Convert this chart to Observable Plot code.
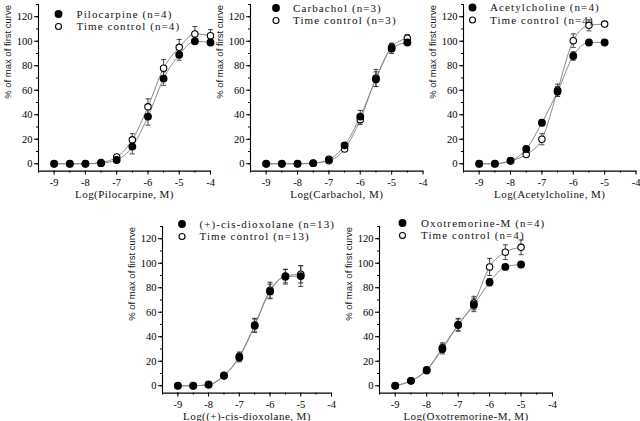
<!DOCTYPE html>
<html><head><meta charset="utf-8">
<script src="https://cdn.jsdelivr.net/npm/d3@7"></script>
<script src="https://cdn.jsdelivr.net/npm/@observablehq/plot@0.6"></script>
<style>
body{margin:0;background:#fff;}
#root{position:relative;width:640px;height:421px;overflow:hidden;background:#fff;}
#root svg{position:absolute;overflow:visible;background:transparent;}
</style></head><body><div id="root"></div><script>
// ---- data (log molar concentration vs % of max of first curve, mean and SEM) ----
const dosesPilo = [-9, -8.5, -8, -7.5, -7, -6.5, -6, -5.5, -5, -4.5, -4];
const pilocarpine    = [0, 0, 0, 0.5, 3, 14, 38.5, 69.5, 89, 100, 99];
const pilocarpineErr = [0, 0, 0, 0.5, 1, 6, 7, 5.5, 4.5, 1.5, 1.5];
const piloTC         = [0, 0, 0, 1, 5.5, 19.5, 46.5, 78, 95, 106, 104.5];
const piloTCErr      = [0, 0, 0, 0.5, 1, 5, 6.5, 7, 6.5, 6, 5];

const dosesCarb = [-9, -8.5, -8, -7.5, -7, -6.5, -6, -5.5, -5, -4.5];
const carbachol    = [0, 0, 0, 0.5, 3.5, 15, 38.5, 69, 94, 99];
const carbacholErr = [0, 0, 0, 0.5, 1, 1.5, 5, 6, 4, 1.5];
const carbTC       = [0, 0, 0, 0.5, 2.5, 12, 36, 70, 95, 102.5];
const carbTCErr    = [0, 0, 0, 0.5, 1, 1.5, 4, 7, 3.5, 3];

const dosesACh = [-9, -8.5, -8, -7.5, -7, -6.5, -6, -5.5, -5];
const acetylcholine    = [0, 0, 2.4, 12, 33.5, 59, 88, 99, 99];
const acetylcholineErr = [0, 0, 0.5, 1.5, 2.5, 4, 3.5, 1, 1];
const achTC            = [0, 0, 2.4, 7.5, 20, 60, 100.5, 113, 114];
const achTCErr         = [0, 0, 0.5, 1, 4.5, 5, 5.5, 4.5, 2];

const dosesDiox = [-9, -8.5, -8, -7.5, -7, -6.5, -6, -5.5, -5];
const dioxolane    = [0, 0, 1, 8.5, 23, 49, 77, 89, 89.5];
const dioxolaneErr = [0, 0, 0.5, 1.5, 3.5, 5.5, 6, 6, 8.5];
const dioxTC       = [0, 0, 0.8, 8, 24, 49.5, 78, 89.5, 91];
const dioxTCErr    = [0, 0, 0.5, 1.5, 3.5, 5.5, 6.5, 5.5, 7];

const dosesOxo = [-9, -8.5, -8, -7.5, -7, -6.5, -6, -5.5, -5];
const oxotremorine    = [0, 4, 12.5, 30, 49.5, 66, 84.5, 97, 99];
const oxotremorineErr = [0, 1, 1.5, 4, 5, 5.5, 3, 1.5, 1.5];
const oxoTC           = [0, 4, 13, 31, 50, 67.5, 97, 109, 113];
const oxoTCErr        = [0, 1, 1.5, 4, 5, 5.5, 7, 6, 6];

const xMajorTicks = [-9, -8, -7, -6, -5, -4];
const xMinorTicks = [-9.5, -9, -8.5, -8, -7.5, -7, -6.5, -6, -5.5, -5, -4.5, -4];
const yMajorTicks = [0, 20, 40, 60, 80, 100, 120];
const yMinorTicks = [0, 10, 20, 30, 40, 50, 60, 70, 80, 90, 100, 110, 120, 130];
const yTitle = "% of max of first curve";

const panels = [
  {left: 0, top: 0, w: 172, doses: dosesPilo, drug: pilocarpine, drugErr: pilocarpineErr, tc: piloTC, tcErr: piloTCErr,
   drugLabel: "Pilocarpine (n=4)", tcLabel: "Time control (n=4)", xLabel: "Log(Pilocarpine, M)", lg: [20, 9.5, 38]},
  {left: 212.3, top: 0, w: 172.5, doses: dosesCarb, drug: carbachol, drugErr: carbacholErr, tc: carbTC, tcErr: carbTCErr,
   drugLabel: "Carbachol (n=3)", tcLabel: "Time control (n=3)", xLabel: "Log(Carbachol, M)", lg: [25.5, 3.5, 42.5]},
  {left: 424.6, top: 0, w: 172.5, doses: dosesACh, drug: acetylcholine, drugErr: acetylcholineErr, tc: achTC, tcErr: achTCErr,
   drugLabel: "Acetylcholine (n=4)", tcLabel: "Time control (n=4)", xLabel: "Log(Acetylcholine, M)", lg: [9, 3, 26.5]},
  {left: 124.4, top: 222, w: 169, doses: dosesDiox, drug: dioxolane, drugErr: dioxolaneErr, tc: dioxTC, tcErr: dioxTCErr,
   drugLabel: "(+)-cis-dioxolane (n=13)", tcLabel: "Time control (n=13)", xLabel: "Log((+)-cis-dioxolane, M)", lg: [19.5, -2.5, 37]},
  {left: 340.6, top: 221.5, w: 173, doses: dosesOxo, drug: oxotremorine, drugErr: oxotremorineErr, tc: oxoTC, tcErr: oxoTCErr,
   drugLabel: "Oxotremorine-M (n=4)", tcLabel: "Time control (n=4)", xLabel: "Log(Oxotremorine-M, M)", lg: [23, -3.5, 41.5]}
];

const SERIF = "'Liberation Serif', 'DejaVu Serif', serif";
const SANS = "'Liberation Sans', Arial, sans-serif";
const capSymbol = {draw(ctx) { ctx.moveTo(-2.5, 0); ctx.lineTo(2.5, 0); }};

const root = document.getElementById("root");
const mL = 38, mT = 4, mR = 8, mB = 36, H = 166.6;

for (const p of panels) {
  const drugRows = p.doses.map((x, i) => ({x, y: p.drug[i], e: p.drugErr[i]}));
  const tcRows = p.doses.map((x, i) => ({x, y: p.tc[i], e: p.tcErr[i]}));
  const errRows = [...tcRows, ...drugRows].filter(d => d.e > 0.6);
  const [ldx, ldy, tdx] = p.lg;
  const legendText = (label, dy) => Plot.text([label], {frameAnchor: "top-left", text: d => d, dx: tdx, dy, textAnchor: "start", lineAnchor: "middle", fontFamily: SERIF, fontSize: 11, fill: "#111"});
  const svg = Plot.plot({
    width: mL + p.w + mR, height: mT + H + mB,
    marginLeft: mL, marginTop: mT, marginRight: mR, marginBottom: mB,
    style: {fontFamily: SERIF, fontSize: "10px", color: "#000", background: "transparent"},
    x: {domain: [-9.5, -4]},
    y: {domain: [-6, 130]},
    marks: [
      Plot.axisX({ticks: xMinorTicks, tickSize: 2, tickFormat: () => "", label: null}),
      Plot.axisX({ticks: xMajorTicks, tickSize: 4, tickPadding: 3, tickFormat: d => String(d), label: null, fontFamily: SERIF, fontSize: 10.5}),
      Plot.axisY({ticks: yMinorTicks, tickSize: 2, tickFormat: () => "", label: null}),
      Plot.axisY({ticks: yMajorTicks, tickSize: 4, tickPadding: 2, tickFormat: d => String(d), label: null, fontFamily: SERIF, fontSize: 10.5}),
      Plot.ruleX([-9.5], {stroke: "#000", strokeWidth: 1.1}),
      Plot.ruleY([-6], {stroke: "#000", strokeWidth: 1.1}),
      Plot.text([yTitle], {frameAnchor: "left", text: d => d, rotate: -90, dx: -31, dy: 11, fontFamily: SANS, fontSize: 9.5, fill: "#111"}),
      Plot.text([p.xLabel], {frameAnchor: "bottom", text: d => d, dy: 23, lineAnchor: "middle", fontFamily: SERIF, fontSize: 11, fill: "#111"}),
      Plot.line(drugRows, {x: "x", y: "y", curve: "monotone-x", stroke: "#8a8a8a", strokeWidth: 1}),
      Plot.line(tcRows, {x: "x", y: "y", curve: "monotone-x", stroke: "#8a8a8a", strokeWidth: 1}),
      Plot.ruleX(errRows, {x: "x", y1: d => d.y - d.e, y2: d => d.y + d.e, stroke: "#333", strokeWidth: 0.9}),
      Plot.dot(errRows, {x: "x", y: d => d.y + d.e, symbol: capSymbol, stroke: "#333", strokeWidth: 0.9}),
      Plot.dot(errRows, {x: "x", y: d => d.y - d.e, symbol: capSymbol, stroke: "#333", strokeWidth: 0.9}),
      Plot.dot(tcRows, {x: "x", y: "y", r: 3.2, fill: "#fff", stroke: "#000", strokeWidth: 1.1}),
      Plot.dot(drugRows, {x: "x", y: "y", r: 3.2, fill: "#000", stroke: "#000"}),
      // legend
      Plot.dot([p.drugLabel], {frameAnchor: "top-left", dx: ldx, dy: ldy, r: 3.2, fill: "#000", stroke: "#000"}),
      Plot.dot([p.tcLabel], {frameAnchor: "top-left", dx: ldx, dy: ldy + 12.5, r: 3, fill: "#fff", stroke: "#000", strokeWidth: 1.1}),
      legendText(p.drugLabel, ldy),
      legendText(p.tcLabel, ldy + 12.5)
    ]
  });
  // letter spacing as in the reference typography
  svg.querySelectorAll("text").forEach(t => {
    const s = t.textContent;
    if (s === p.drugLabel || s === p.tcLabel) t.setAttribute("letter-spacing", "1.1");
    else if (s === p.xLabel) t.setAttribute("letter-spacing", "0.45");
  });
  svg.style.left = p.left + "px";
  svg.style.top = p.top + "px";
  root.appendChild(svg);
}
</script></body></html>
